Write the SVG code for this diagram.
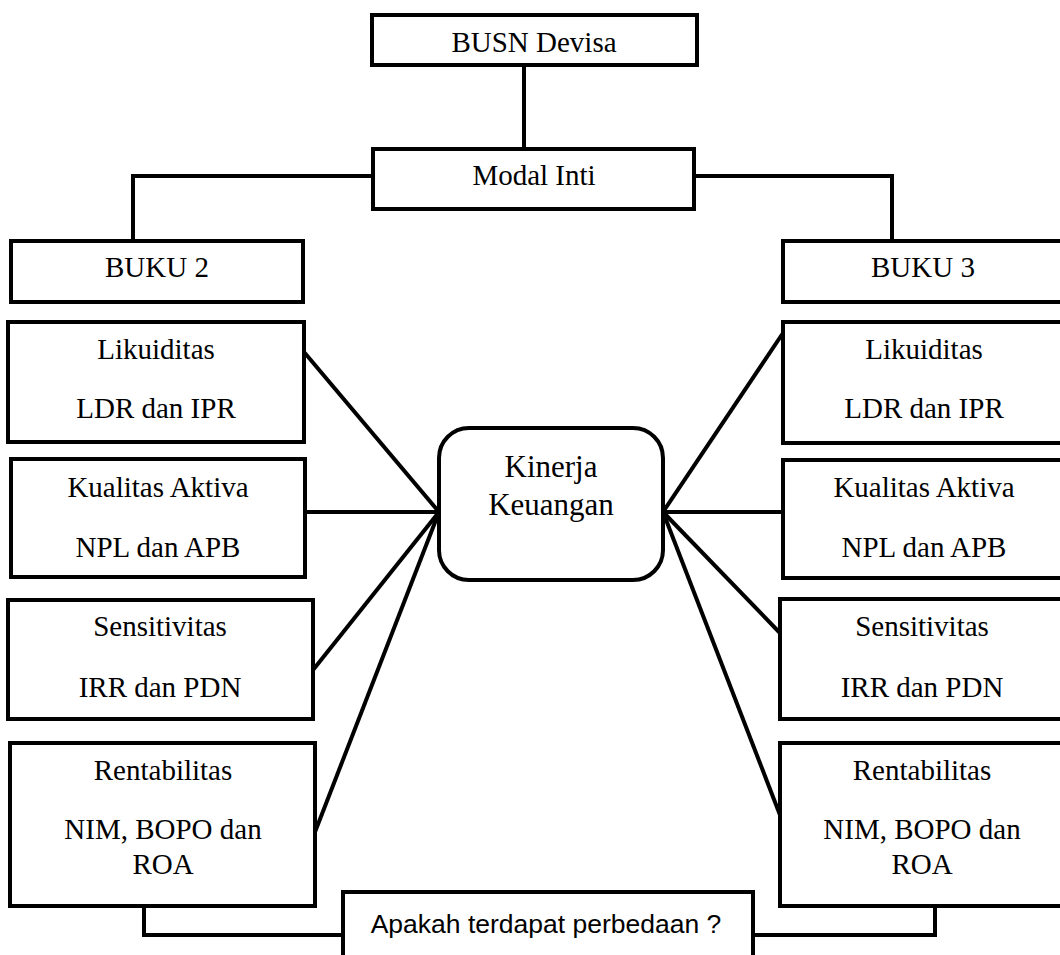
<svg xmlns="http://www.w3.org/2000/svg" width="1060" height="955" viewBox="0 0 1060 955">
<style>
.box{fill:#fff;stroke:#000;stroke-width:4}
.t{font-family:"Liberation Serif","Times New Roman",serif;font-size:29px;fill:#000;text-anchor:middle}
.k{font-family:"Liberation Serif","Times New Roman",serif;font-size:31px;fill:#000;text-anchor:middle}
.s{font-family:"Liberation Sans",Arial,sans-serif;font-size:26.5px;fill:#000;text-anchor:middle}
.ln{fill:none;stroke:#000;stroke-width:4}
</style>
<rect width="1060" height="955" fill="#fff"/>
<g id="connectors">
<line class="ln" x1="524" y1="65" x2="524" y2="149"/>
<polyline class="ln" points="373,176 133,176 133,241"/>
<polyline class="ln" points="694,176 892,176 892,241"/>
<line class="ln" x1="304" y1="352" x2="439" y2="512"/>
<line class="ln" x1="305" y1="512" x2="439" y2="512"/>
<line class="ln" x1="313" y1="670" x2="439" y2="512"/>
<line class="ln" x1="315" y1="832" x2="439" y2="512"/>
<line class="ln" x1="663" y1="512" x2="783" y2="333"/>
<line class="ln" x1="663" y1="512" x2="783" y2="512"/>
<line class="ln" x1="663" y1="512" x2="780" y2="633"/>
<line class="ln" x1="663" y1="512" x2="780" y2="815"/>
<polyline class="ln" points="144,906 144,935 343,935"/>
<polyline class="ln" points="935,906 935,935 753,935"/>
</g>
<g id="busn"><rect class="box" x="372" y="15" width="325" height="50"/><text class="t" x="534" y="52">BUSN Devisa</text></g>
<g id="modal"><rect class="box" x="373" y="149" width="321" height="60"/><text class="t" x="534" y="185">Modal Inti</text></g>
<g id="buku2"><rect class="box" x="11" y="241" width="292" height="61"/><text class="t" x="157" y="277">BUKU 2</text></g>
<g id="buku3"><rect class="box" x="783" y="241" width="290" height="61"/><text class="t" x="923" y="277">BUKU 3</text></g>
<g id="likuiditas2"><rect class="box" x="8" y="322" width="296" height="120"/><text class="t" x="156" y="359">Likuiditas</text><text class="t" x="156" y="418">LDR dan IPR</text></g>
<g id="kualitas2"><rect class="box" x="11" y="459" width="294" height="118"/><text class="t" x="158" y="497">Kualitas Aktiva</text><text class="t" x="158" y="557">NPL dan APB</text></g>
<g id="sensitivitas2"><rect class="box" x="8" y="600" width="305" height="119"/><text class="t" x="160" y="636">Sensitivitas</text><text class="t" x="160" y="697">IRR dan PDN</text></g>
<g id="rentabilitas2"><rect class="box" x="10" y="743" width="305" height="163"/><text class="t" x="163" y="780">Rentabilitas</text><text class="t" x="163" y="839">NIM, BOPO dan</text><text class="t" x="163" y="874">ROA</text></g>
<g id="likuiditas3"><rect class="box" x="783" y="322" width="290" height="121"/><text class="t" x="924" y="359">Likuiditas</text><text class="t" x="924" y="418">LDR dan IPR</text></g>
<g id="kualitas3"><rect class="box" x="783" y="460" width="290" height="118"/><text class="t" x="924" y="497">Kualitas Aktiva</text><text class="t" x="924" y="557">NPL dan APB</text></g>
<g id="sensitivitas3"><rect class="box" x="780" y="599" width="293" height="120"/><text class="t" x="922" y="636">Sensitivitas</text><text class="t" x="922" y="697">IRR dan PDN</text></g>
<g id="rentabilitas3"><rect class="box" x="780" y="743" width="293" height="163"/><text class="t" x="922" y="780">Rentabilitas</text><text class="t" x="922" y="839">NIM, BOPO dan</text><text class="t" x="922" y="874">ROA</text></g>
<g id="kinerja"><rect class="box" x="439" y="428" width="224" height="152" rx="30" ry="30"/><text class="k" x="551" y="477">Kinerja</text><text class="k" x="551" y="515">Keuangan</text></g>
<g id="apakah"><rect class="box" x="343" y="892" width="410" height="80"/><text class="s" x="546" y="933">Apakah terdapat perbedaan ?</text></g>
</svg>
